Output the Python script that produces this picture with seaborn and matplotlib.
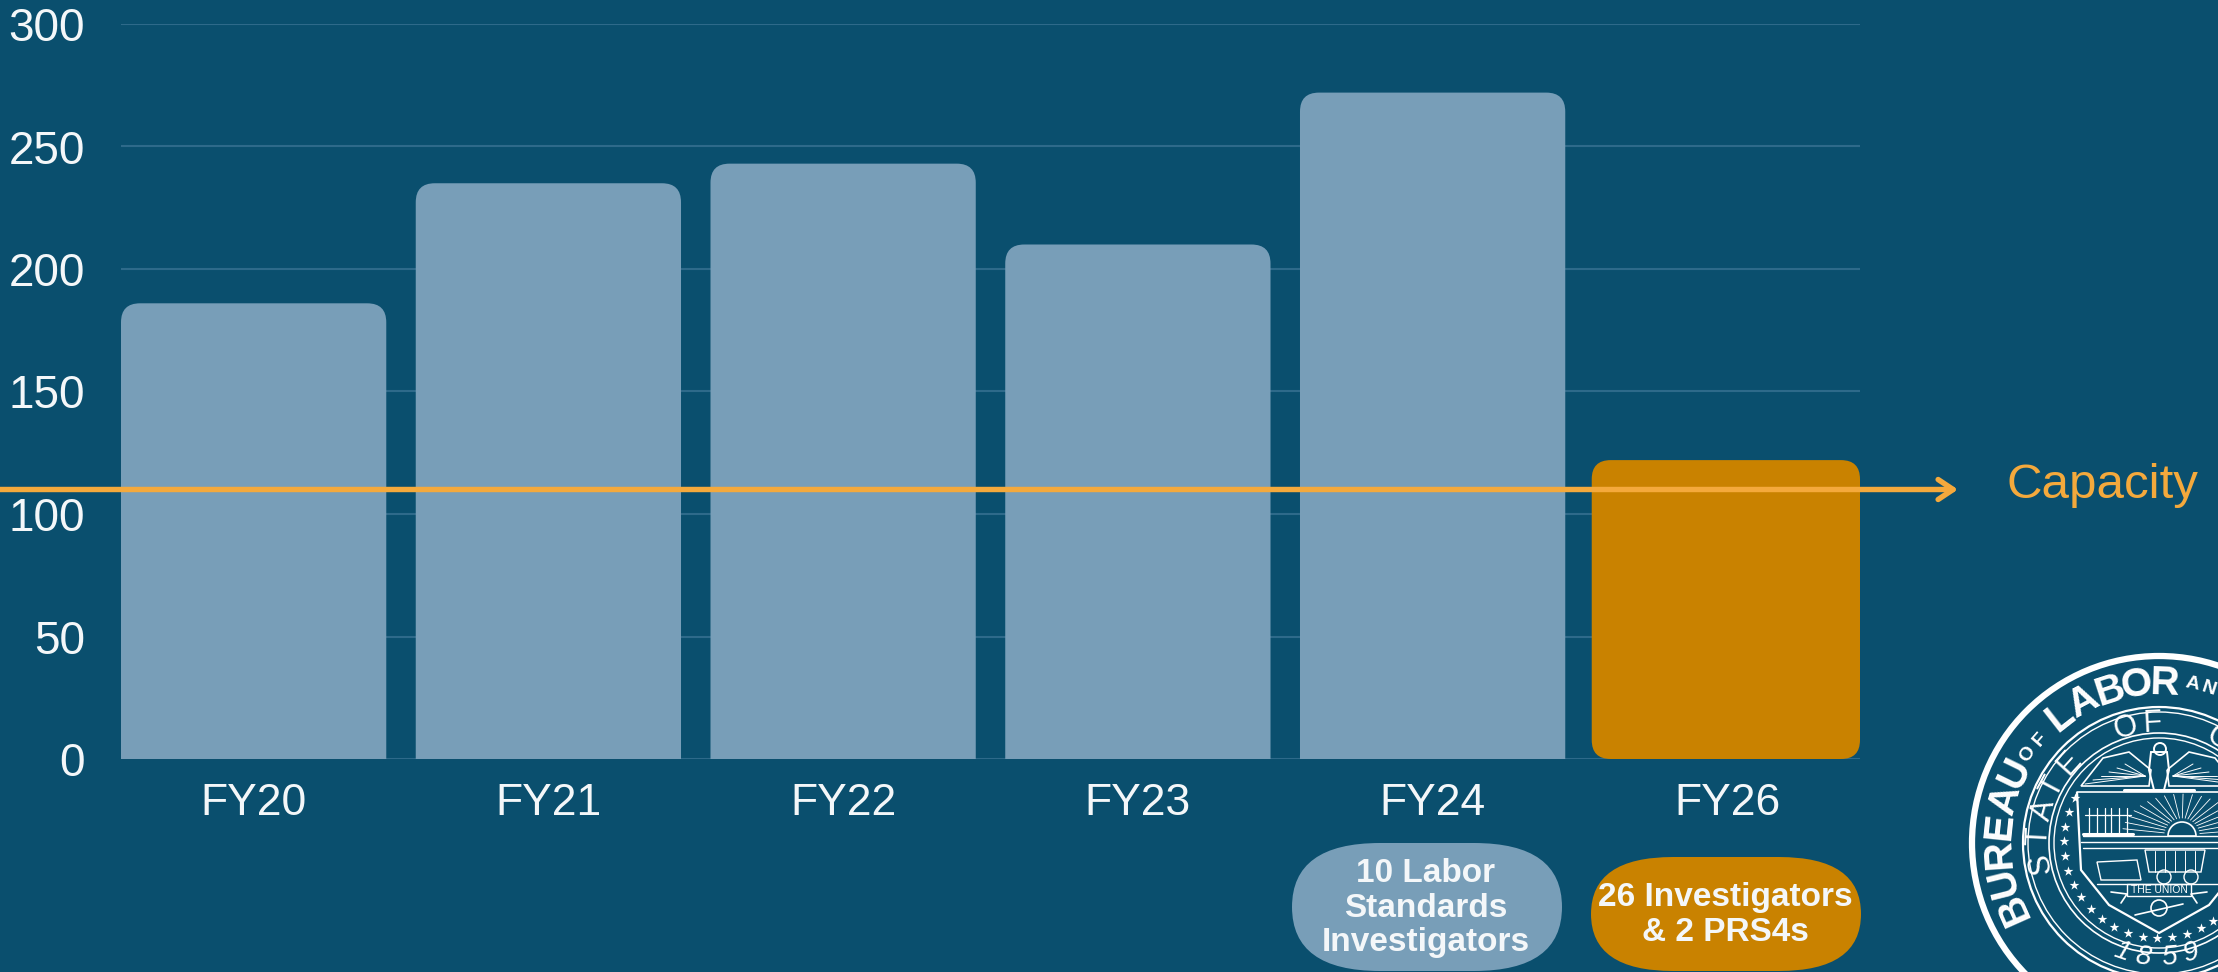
import numpy as np
import pandas as pd
import matplotlib
matplotlib.use("Agg")
import matplotlib.pyplot as plt
import seaborn as sns
from matplotlib.patches import FancyBboxPatch, Circle, Polygon, Wedge

categories = ["FY20", "FY21", "FY22", "FY23", "FY24", "FY26"]
values = [186, 235, 243, 210, 272, 122]
capacity_value = 110
y_ticks = [0, 50, 100, 150, 200, 250, 300]
capacity_label = "Capacity"
pill_labels = ["10 Labor\nStandards\nInvestigators", "26 Investigators\n& 2 PRS4s"]

BG = "#0A4F6E"
BLUE = "#789EB8"
ORANGE = "#C98200"
LINE = "#F4A93C"
GRID = "#2E6A8A"
WHITE = "#F4F7F9"

W, H = 2218, 972
sns.set_theme(style="white")
plt.rcParams["font.family"] = ["Liberation Sans", "DejaVu Sans"]

fig = plt.figure(figsize=(W / 100, H / 100), dpi=100, facecolor=BG)
ax = fig.add_axes([121 / W, 1 - 759 / H, (1860 - 121) / W, (759 - 24) / H], facecolor=BG)

df = pd.DataFrame({"fy": categories, "n": values})
sns.barplot(data=df, x="fy", y="n", hue="fy", palette=[BLUE] * 5 + [ORANGE],
            width=0.9, legend=False, ax=ax, saturation=1, zorder=2)
ax.set_xlim(-0.45, 5.45)
ax.set_ylim(0, 300)
ax.set_yticks(y_ticks)
ax.set_xlabel("")
ax.set_ylabel("")
ax.yaxis.grid(True, color=GRID, lw=1.5, zorder=0)
ax.xaxis.grid(False)
ax.set_axisbelow(True)
sns.despine(ax=ax, left=True, bottom=True)
ax.tick_params(axis="y", length=0, pad=26, labelsize=33, labelcolor=WHITE)
ax.tick_params(axis="x", length=0, pad=17, labelsize=32, labelcolor=WHITE)

# Round the bars' corners, keeping the geometry seaborn computed
px_x = (1860 - 121) / 5.9
px_y = (759 - 24) / 300
aspect = px_x / px_y
r = 19 / px_x
for i, bar in enumerate(list(ax.patches)):
    x0, w, h, col = bar.get_x(), bar.get_width(), bar.get_height(), bar.get_facecolor()
    bar.remove()
    last = i == len(categories) - 1
    if last:
        x0 -= 3 / px_x
        w += 3 / px_x
    # all but the last bar keep square feet: their box runs below the axes' clip
    below = 0 if last else 20
    ax.add_patch(FancyBboxPatch((x0, -below), w, h + below,
                                boxstyle=f"round,pad=0,rounding_size={r}",
                                mutation_aspect=aspect, fc=col, ec="none", zorder=2))

ax.annotate("", xy=(1958, capacity_value), xytext=(0, capacity_value),
            xycoords=("figure pixels", "data"), textcoords=("figure pixels", "data"),
            annotation_clip=False, zorder=5,
            arrowprops=dict(arrowstyle="->,head_length=0.9,head_width=0.6", color=LINE,
                            lw=3.9, shrinkA=0, shrinkB=0))

# Overlay in figure pixels for the pills, the label and the seal
ov = fig.add_axes([0, 0, 1, 1], facecolor="none")
ov.set_xlim(0, W)
ov.set_ylim(H, 0)
ov.axis("off")

ov.text(2102, 485, capacity_label, color=LINE, fontsize=35.5, ha="center", va="center")

for (x0, x1, y0, y1, c, rs), lab in zip([(1292, 1562, 843, 971, BLUE, 88), (1591, 1861, 857, 971, ORANGE, 82)], pill_labels):
    ov.add_patch(FancyBboxPatch((x0, y0), x1 - x0, y1 - y0,
                                boxstyle=f"round,pad=0,rounding_size={rs}",
                                mutation_aspect=(y1 - y0) / 2 / rs, fc=c, ec="none"))
    ov.text((x0 + x1) / 2 - 1, (y0 + y1) / 2 + 1, lab, color=WHITE, fontsize=24, fontweight="bold",
            ha="center", va="center", linespacing=1.14)

# Seal
cx, cy = 2159, 843

def ring(rad, lw):
    ov.add_patch(Circle((cx, cy), rad, fc="none", ec="white", lw=lw))

def glyph(ch, ang, rad, size, bottom=False, **kw):
    a = np.deg2rad(ang)
    rot = ang + 90 if bottom else ang - 90
    ov.text(cx + rad * np.cos(a), cy - rad * np.sin(a), ch, color="white", fontsize=size,
            rotation=rot, rotation_mode="anchor", ha="center", va="center", **kw)

ring(187, 4.5)
ring(136, 1.6)
ring(131, 1.0)
ring(110, 1.2)
ring(105, 1.0)

for ch, ang in zip("BUREAU", [204, 194, 184, 174, 164, 154]):
    glyph(ch, ang, 160, 29, fontweight="bold")
for ch, ang in zip("OF", [146, 139]):
    glyph(ch, ang, 158, 14, fontweight="bold")
for ch, ang in zip("LABOR", [128, 118, 108, 98, 88]):
    glyph(ch, ang, 160, 29, fontweight="bold")
for ch, ang in zip("AN", [78, 72]):
    glyph(ch, ang, 162, 14, fontweight="bold")
for ch, ang in zip("STATE", [190, 177, 164, 152, 138]):
    glyph(ch, ang, 120, 22)
for ch, ang in zip("OF", [106, 93]):
    glyph(ch, ang, 120, 22)
glyph("O", 60, 120, 22)
for ch, ang in zip("1859", [251, 262, 275, 286]):
    glyph(ch, ang, 115, 20, bottom=True, style="italic")

star_ang = np.deg2rad(np.arange(152, 152 + 236, 9.0))
ov.scatter(cx + 95 * np.cos(star_ang), cy - 95 * np.sin(star_ang), marker="*", s=55, c="white", lw=0)

# shield outline
shield = [(cx - 82, 792), (cx - 78, 870), (cx - 50, 905), (cx, 933), (cx + 50, 905), (cx + 78, 870), (cx + 82, 792)]
ov.add_patch(Polygon(shield, closed=False, fc="none", ec="white", lw=1.6))
ov.plot([cx - 82, cx + 82], [792, 792], color="white", lw=1.2)
# sun and rays
sx, sy = cx + 23, 836
ov.add_patch(Wedge((sx, sy), 14, 180, 360, fc="none", ec="white", lw=1.2))
for a in np.deg2rad(np.arange(8, 175, 9)):
    ov.plot([sx + 18 * np.cos(a), sx + 60 * np.cos(a)], [sy - 18 * np.sin(a), sy - 42 * np.sin(a)],
            color="white", lw=0.6)
# sea and land lines
for y, xa, xb in [(836, -76, 60), (842, -78, 62), (848, -76, 64), (884, -62, 62)]:
    ov.plot([cx + xa, cx + xb], [y, y], color="white", lw=1.0)
# ships
for bx in [cx - 62, cx - 40]:
    ov.plot([bx - 14, bx + 14], [834, 834], color="white", lw=2.2)
    for m in (-8, 0, 8):
        ov.plot([bx + m, bx + m], [834, 808], color="white", lw=0.9)
        ov.plot([bx + m - 4, bx + m + 4], [815, 815], color="white", lw=0.9)
# oxen and wagon
ov.add_patch(Polygon([(cx - 62, 862), (cx - 22, 860), (cx - 18, 880), (cx - 58, 880)], fc="none", ec="white", lw=1.0))
ov.add_patch(Polygon([(cx - 14, 850), (cx + 46, 850), (cx + 42, 872), (cx - 10, 872)], fc="none", ec="white", lw=1.0))
for dx in (-4, 6, 16, 26, 36):
    ov.plot([cx + dx, cx + dx], [851, 872], color="white", lw=0.7)
for dx in (5, 32):
    ov.add_patch(Circle((cx + dx, 877), 7, fc="none", ec="white", lw=1.0))
# banner
ov.add_patch(Polygon([(cx - 32, 884), (cx + 32, 884), (cx + 32, 896), (cx - 32, 896)], fc=BG, ec="white", lw=1.0))
ov.text(cx, 890, "THE UNION", color="white", fontsize=7.5, ha="center", va="center")
# ribbon ends and sheaf
ov.plot([cx - 48, cx - 32, cx - 38], [892, 894, 903], color="white", lw=1.2)
ov.plot([cx + 48, cx + 32, cx + 38], [892, 894, 903], color="white", lw=1.2)
ov.add_patch(Circle((cx, 908), 8, fc="none", ec="white", lw=1.2))
ov.plot([cx - 24, cx + 24], [915, 904], color="white", lw=1.2)
# eagle
for sgn in (-1, 1):
    ov.add_patch(Polygon([(cx + sgn * 8, 770), (cx + sgn * 30, 752), (cx + sgn * 56, 758), (cx + sgn * 78, 786),
                          (cx + sgn * 40, 786), (cx + sgn * 10, 786)], fc="none", ec="white", lw=1.2))
    for k in range(6):
        ov.plot([cx + sgn * 14, cx + sgn * (34 + 8 * k)], [776, 764 + 4 * k], color="white", lw=0.7)
ov.add_patch(Polygon([(cx - 8, 752), (cx + 8, 752), (cx + 10, 770), (cx + 5, 790), (cx - 5, 790), (cx - 10, 770)],
                     fc="none", ec="white", lw=1.4))
ov.add_patch(Circle((cx + 1, 749), 6, fc="none", ec="white", lw=1.4))
ov.plot([cx - 35, cx + 35], [790, 790], color="white", lw=2.2)

fig.savefig("out.png", dpi=100, facecolor=BG)
